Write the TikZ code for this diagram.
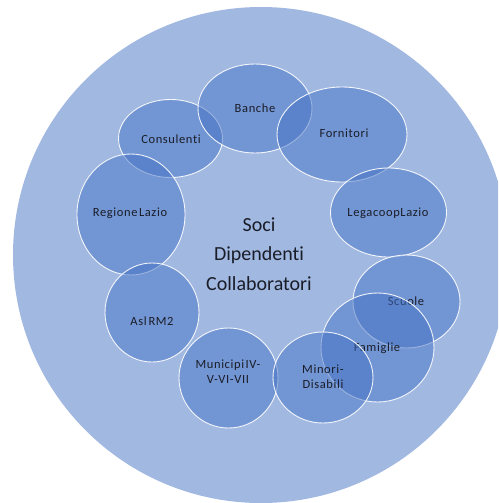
\documentclass[tikz,border=0pt]{standalone}
\usepackage{fontspec}
\setmainfont{Carlito}[Ligatures=NoCommon]
\newfontfamily\lblfont{Carlito}[Ligatures=NoCommon, LetterSpace=5]
\usetikzlibrary{shapes.geometric}
\definecolor{accent}{HTML}{4472C4}
\definecolor{txt}{HTML}{1A1D28}
\tikzset{
  outer/.style={circle, fill=accent, fill opacity=0.5, draw=none, inner sep=0pt},
  bubble/.style={ellipse, fill=accent, fill opacity=0.5, draw=white, draw opacity=0.9, line width=0.9pt, inner sep=0pt},
  lbl/.style={text=txt, font=\lblfont\fontsize{12.5}{15}\selectfont, align=center, inner sep=0pt},
  mid/.style={text=txt, font=\fontsize{20}{29.5}\selectfont, align=center, inner sep=0pt}
}
\begin{document}
\begin{tikzpicture}[x=1pt,y=-1pt]
\useasboundingbox (0,0) rectangle (498,503);
\clip (0,0) rectangle (498,503);
\node[outer, minimum size=496pt] (big) at (261,255) {};
\node[mid] (centre) at (259,254) {Soci\\Dipendenti\\Collaboratori};
% bubbles
\node[bubble, minimum width=104pt, minimum height=78pt] (consulenti) at (170.5,138.5) {};
\node[lbl] (tconsulenti) at (171,139) {Consulenti};
\node[bubble, minimum width=114pt, minimum height=89pt] (banche) at (255,108.5) {};
\node[lbl] (tbanche) at (255,108) {Banche};
\node[bubble, minimum width=130pt, minimum height=95pt] (fornitori) at (342,134.5) {};
\node[lbl] (tfornitori) at (344,133) {Fornitori};
\node[bubble, minimum width=116pt, minimum height=89pt] (legacoop) at (388.5,212.5) {};
\node[lbl] (tlegacoop) at (388,213) {LegacoopLazio};
\node[bubble, minimum width=108pt, minimum height=121pt] (regione) at (131,214.5) {};
\node[lbl] (tregione) at (130,213) {Regione\hspace{0.12em}Lazio};
\node[bubble, minimum width=94pt, minimum height=99pt] (asl) at (152,312.5) {};
\node[lbl] (tasl) at (152,321) {Asl\hspace{0.15em}RM2};
\node[bubble, minimum width=99pt, minimum height=100pt] (municipi) at (228.5,378) {};
\node[lbl] (tmunicipi) at (228,371.5) {Municipi\hspace{0.12em}IV-\\V-VI-VII};
\node[bubble, minimum width=107pt, minimum height=93pt] (scuole) at (406.5,301.5) {};
\node[lbl] (tscuole) at (406,301) {Scuole};
\node[bubble, minimum width=113pt, minimum height=109pt] (famiglie) at (377.5,347.5) {};
\node[lbl] (tfamiglie) at (377,348) {Famiglie};
\node[bubble, minimum width=100pt, minimum height=91pt] (minori) at (323,377.5) {};
\node[lbl] (tminori) at (323,376.5) {Minori-\\Disabili};
\end{tikzpicture}
\end{document}
